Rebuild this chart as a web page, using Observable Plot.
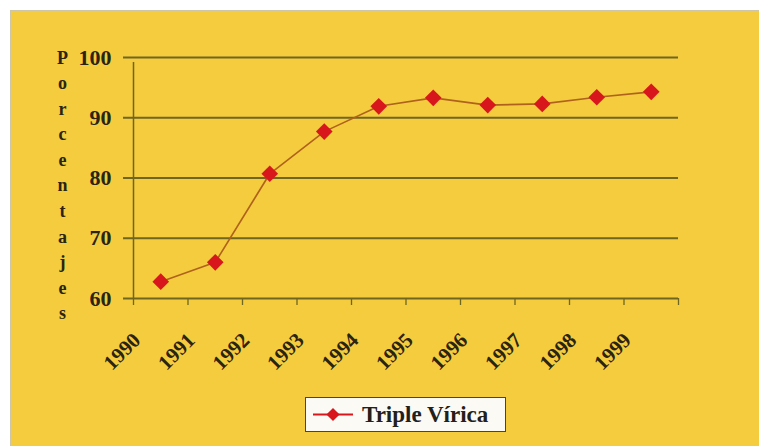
<!DOCTYPE html>
<html>
<head>
<meta charset="utf-8">
<script src="https://cdn.jsdelivr.net/npm/d3@7"></script>
<script src="https://cdn.jsdelivr.net/npm/@observablehq/plot@0.6"></script>
<style>
  html, body { margin: 0; padding: 0; background: #ffffff; }
  #wrap { position: relative; width: 759px; height: 446px; overflow: hidden; background: #ffffff; }
  #panel { position: absolute; left: 10px; top: 10px; right: 0; bottom: 0; background: #f4cc3e;
           border-left: 1px solid #cfc6a6; border-top: 1px solid #cfc6a6; }
  #chart { position: absolute; left: 0; top: 0; }
  #legend { position: absolute; left: 305px; top: 397px; width: 199px; height: 33px;
            background: #fbfaf4; border: 1px solid #4a4636; display: flex; align-items: center;
            font-family: "Liberation Serif", "Times New Roman", serif; font-weight: bold;
            font-size: 23px; color: #222018; }
  #legend svg { flex: none; }
  #legend span { margin-left: 6px; }
</style>
</head>
<body>
<div id="wrap">
  <div id="panel"></div>
  <div id="chart"></div>
  <div id="legend"></div>
</div>
<script>
// ---- data ----
const years = [1990, 1991, 1992, 1993, 1994, 1995, 1996, 1997, 1998, 1999];
const values = [62.8, 66.0, 80.7, 87.7, 91.9, 93.3, 92.1, 92.3, 93.4, 94.3];
const yTicks = [60, 70, 80, 90, 100];
const yLabel = "Porcentajes";
const seriesName = "Triple Vírica";

// ---- styles ----
const gridColor = "#6f6620";
const lineColor = "#b0621c";
const markerColor = "#d8171d";
const textColor = "#2b2412";

const data = years.map((year, i) => ({year, value: values[i]}));
const boundaries = years.map(y => y - 0.5).concat([years[years.length - 1] + 0.5]);

const chart = Plot.plot({
  width: 759,
  height: 390,
  marginLeft: 133,
  marginRight: 81,
  marginTop: 57,
  marginBottom: 92,
  style: {background: "transparent", fontFamily: "'Liberation Serif', 'Times New Roman', serif",
          fontWeight: "bold", color: textColor, overflow: "visible"},
  x: {type: "linear", domain: [boundaries[0], boundaries[boundaries.length - 1]]},
  y: {domain: [yTicks[0], yTicks[yTicks.length - 1]]},
  marks: [
    Plot.ruleY(yTicks, {stroke: gridColor, strokeWidth: 2, insetLeft: -10}),
    Plot.ruleX([boundaries[0]], {y1: yTicks[0], y2: yTicks[yTicks.length - 1], stroke: gridColor, strokeWidth: 1.5, insetBottom: -5}),
    Plot.axisX({ticks: boundaries, tickSize: 7, tickFormat: () => "", label: null, stroke: gridColor, strokeWidth: 1.3}),
    Plot.axisY({ticks: yTicks, tickSize: 0, tickPadding: 22, label: null, fontSize: 22, fill: textColor}),
    Plot.text(years, {x: d => d, text: d => String(d), frameAnchor: "bottom", rotate: -45, textAnchor: "end",
                      dx: -19, dy: 43, fontSize: 21, fill: textColor}),
    Plot.text([yLabel], {frameAnchor: "top-left", text: d => d.split("").join("\n"), lineHeight: 1.42,
                         fontSize: 18, textAnchor: "middle", lineAnchor: "top", dx: -71, dy: -12, fill: textColor}),
    Plot.line(data, {x: "year", y: "value", stroke: lineColor, strokeWidth: 1.6}),
    Plot.dot(data, {x: "year", y: "value", symbol: "diamond2", r: 7.5, fill: markerColor, stroke: "none"})
  ]
});
document.getElementById("chart").appendChild(chart);

// legend
const legend = document.getElementById("legend");
const sw = d3.create("svg").attr("width", 50).attr("height", 33);
sw.append("line").attr("x1", 7).attr("x2", 47).attr("y1", 16.5).attr("y2", 16.5)
  .attr("stroke", markerColor).attr("stroke-width", 2);
sw.append("path").attr("transform", "translate(27,16.5)")
  .attr("d", d3.symbol(d3.symbolDiamond2, 110)()).attr("fill", markerColor);
legend.appendChild(sw.node());
const span = document.createElement("span");
span.textContent = seriesName;
legend.appendChild(span);
</script>
</body>
</html>
